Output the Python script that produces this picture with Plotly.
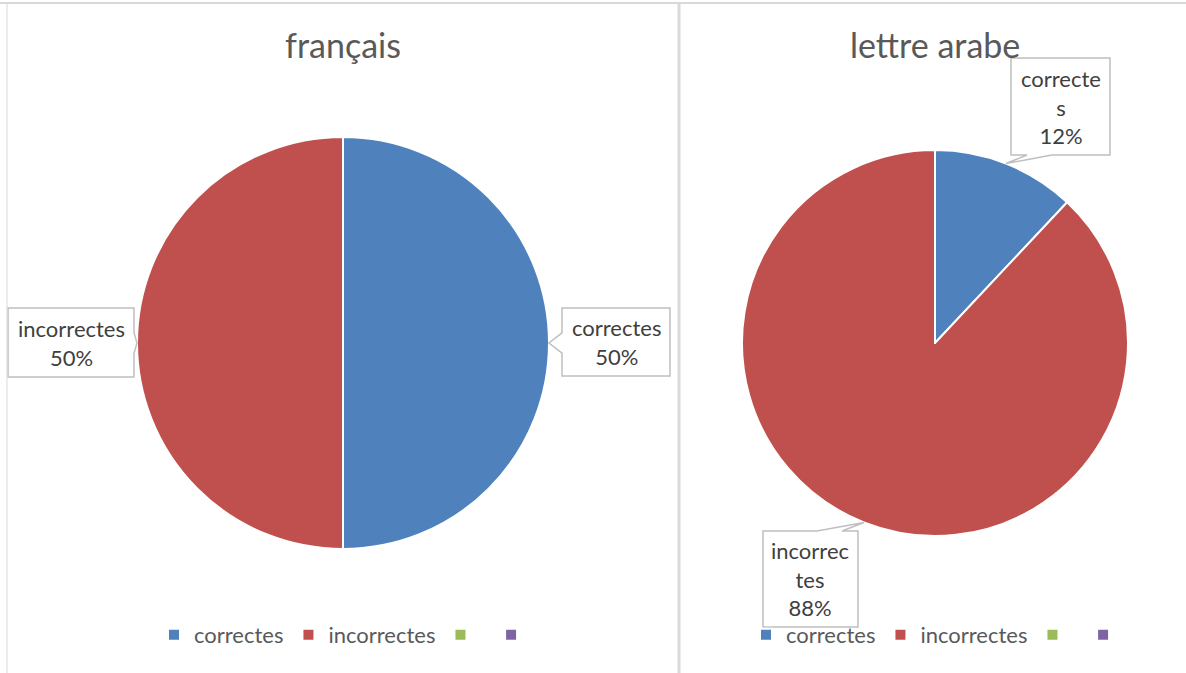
import math
import plotly.graph_objects as go

W, H = 1186, 673

# Categories shared by both pies (the two last ones are empty series)
categories = ["correctes", "incorrectes", " ", "  "]
colors = ["#4F81BD", "#C0504D", "#9BBB59", "#8064A2"]

title_francais = "français"
title_arabe = "lettre arabe"
values_francais = [50, 50, 0, 0]
values_arabe = [12, 88, 0, 0]

FONT = "Lato"
TEXT_DARK = "#404040"
TEXT_GREY = "#595959"
BOX_LINE = "#BFBFBF"
FRAME = "#D9D9D9"

# Pixel geometry of each pie panel: centre, radius, callout boxes (x0, y0, x1, y1)
panels = [
    dict(title=title_francais, values=values_francais, cx=343, cy=343, r=206,
         legend="legend", legend_x=351, wrap=None,
         boxes={0: (562, 308, 670, 376), 1: (8, 308, 134, 377)}),
    dict(title=title_arabe, values=values_arabe, cx=935, cy=343, r=193,
         legend="legend2", legend_x=943, wrap=8,
         boxes={0: (1011, 58, 1110, 155), 1: (763, 531, 858, 627)}),
]


def px(x, y):
    return f"{x / W:.5f},{1 - y / H:.5f}"


def wrap_label(label, width):
    if not width:
        return label
    return "<br>".join(label[i:i + width] for i in range(0, len(label), width))


def callout_path(box, tip):
    x0, y0, x1, y1 = box
    tx, ty = tip
    dx = max(x0 - tx, tx - x1, 0)
    dy = max(y0 - ty, ty - y1, 0)
    if dy >= dx:
        side = "top" if ty < y0 else "bottom"
        lo, hi, near = x0, x1, tx
    else:
        side = "left" if tx < x0 else "right"
        lo, hi, near = y0, y1, ty
    w = min(25, 0.3 * (hi - lo))
    c = min(max(near, lo + 16 + w / 2), hi - 16 - w / 2)
    b0, b1 = c - w / 2, c + w / 2

    pts = [(x0, y0)]
    if side == "top":
        pts += [(b0, y0), (tx, ty), (b1, y0)]
    pts.append((x1, y0))
    if side == "right":
        pts += [(x1, b0), (tx, ty), (x1, b1)]
    pts.append((x1, y1))
    if side == "bottom":
        pts += [(b1, y1), (tx, ty), (b0, y1)]
    pts.append((x0, y1))
    if side == "left":
        pts += [(x0, b1), (tx, ty), (x0, b0)]
    return "M" + " L".join(px(x, y) for x, y in pts) + " Z"


fig = go.Figure()
shapes = []
annotations = []

for k, p in enumerate(panels):
    cx, cy, r = p["cx"], p["cy"], p["r"]
    # each pie keeps its own legend: labels get an invisible per-panel suffix
    labels = [c + "\u200b" * k for c in categories]
    fig.add_trace(go.Pie(
        labels=labels,
        values=p["values"],
        sort=False,
        direction="clockwise",
        rotation=0,
        textinfo="none",
        hoverinfo="label+percent",
        marker=dict(colors=colors, line=dict(color="white", width=2)),
        domain=dict(x=[(cx - r) / W, (cx + r) / W],
                    y=[1 - (cy + r) / H, 1 - (cy - r) / H]),
        legend=p["legend"],
        showlegend=True,
    ))

    annotations.append(dict(
        text=p["title"], x=cx / W, y=1 - 45 / H, xref="paper", yref="paper",
        showarrow=False, xanchor="center", yanchor="middle",
        font=dict(family=FONT, size=34, color=TEXT_GREY),
    ))

    total = sum(p["values"])
    start = 0.0
    for i, v in enumerate(p["values"]):
        frac = v / total
        if i in p["boxes"]:
            mid = 2 * math.pi * (start + frac / 2)
            tip = (cx + r * math.sin(mid), cy - r * math.cos(mid))
            box = p["boxes"][i]
            shapes.append(dict(
                type="path", xref="paper", yref="paper",
                path=callout_path(box, tip),
                line=dict(color=BOX_LINE, width=1.5),
                fillcolor="white", layer="above",
            ))
            label = wrap_label(categories[i], p["wrap"])
            annotations.append(dict(
                text=f"{label}<br>{frac * 100:.0f}%",
                x=(box[0] + box[2]) / 2 / W, y=1 - (box[1] + box[3]) / 2 / H,
                xref="paper", yref="paper", showarrow=False,
                xanchor="center", yanchor="middle",
                font=dict(family=FONT, size=22, color=TEXT_DARK),
            ))
        start += frac

# Panel frame lines
shapes += [
    dict(type="line", xref="paper", yref="paper", x0=0, x1=1,
         y0=1 - 3 / H, y1=1 - 3 / H, line=dict(color=FRAME, width=2)),
    dict(type="line", xref="paper", yref="paper", x0=7 / W, x1=7 / W,
         y0=0, y1=1 - 3 / H, line=dict(color=FRAME, width=1)),
    dict(type="line", xref="paper", yref="paper", x0=679 / W, x1=679 / W,
         y0=0, y1=1 - 3 / H, line=dict(color=FRAME, width=3)),
]

legend_style = dict(
    orientation="h", xanchor="center", yanchor="middle", y=1 - 635 / H,
    font=dict(family=FONT, size=22, color=TEXT_GREY),
    bgcolor="rgba(0,0,0,0)", itemwidth=30,
)

fig.update_layout(
    width=W, height=H,
    margin=dict(l=0, r=0, t=0, b=0),
    paper_bgcolor="white", plot_bgcolor="white",
    shapes=shapes, annotations=annotations,
    legend=dict(x=panels[0]["legend_x"] / W, **legend_style),
    legend2=dict(x=panels[1]["legend_x"] / W, **legend_style),
    font=dict(family=FONT),
)

fig.write_html("out.html")
